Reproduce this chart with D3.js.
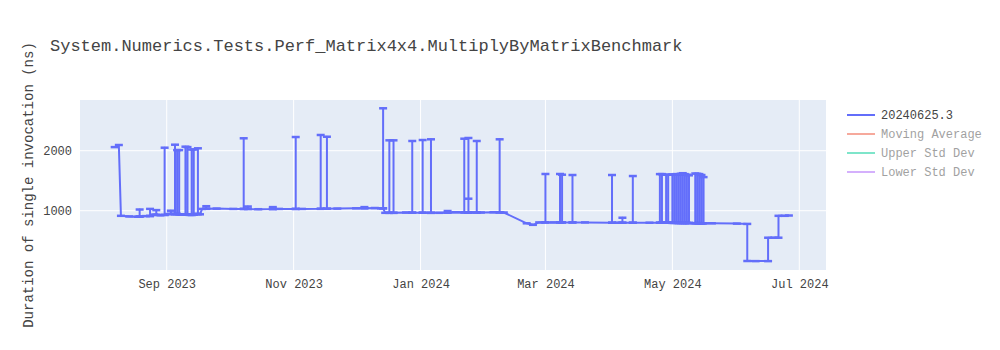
<!DOCTYPE html>
<html lang="en">
  <head>
    <meta charset="UTF-8">
    <title>Perf_Matrix4x4.MultiplyByMatrixBenchmark</title>
    <style>
      html, body {
        margin: 0;
        padding: 0;
        background: #fff;
      }

      text {
        font-family: "Courier New", "Liberation Mono", monospace;
        fill: #444;
      }
    </style>
  </head>
  <body>
    <svg width="1000" height="350"></svg>
    <script src="https://cdn.jsdelivr.net/npm/d3@7"></script>
    <script>

      // baseline of the run series (date, ns)
      const baseDates = [
        '2023-08-07', '2023-08-09', '2023-08-10', '2023-08-14', '2023-08-18', '2023-08-22',
        '2023-08-26', '2023-08-29', '2023-09-02', '2023-09-08', '2023-09-12', '2023-09-15',
        '2023-09-17', '2023-09-18', '2023-09-25', '2023-10-03', '2023-10-15', '2023-10-25',
        '2023-11-05', '2023-11-22', '2023-12-01', '2023-12-10', '2023-12-13', '2023-12-15',
        '2023-12-25', '2024-01-10', '2024-01-18', '2024-01-30', '2024-02-05', '2024-02-10',
        '2024-02-21', '2024-02-24', '2024-02-27', '2024-03-05', '2024-03-20', '2024-04-05',
        '2024-04-20', '2024-05-20', '2024-06-01', '2024-06-06', '2024-06-06', '2024-06-10',
        '2024-06-16', '2024-06-16', '2024-06-19', '2024-06-21', '2024-06-21', '2024-06-24',
        '2024-06-26'
      ]
      const baseValues = [
        2060, 2095, 915, 905, 900, 910,
        935, 925, 945, 935, 930, 945,
        940, 1030, 1035, 1030, 1025, 1030,
        1030, 1035, 1040, 1045, 1040, 965,
        970, 965, 975, 970, 975, 970,
        790, 765, 805, 805, 805, 800,
        800, 790, 785, 780, 162, 160,
        160, 550, 550, 550, 915, 915,
        920
      ]

      // single-run outliers: date, peak and the level they jump from
      const spikeDates = [
        '2023-08-19', '2023-08-24', '2023-08-27', '2023-08-31', '2023-09-03', '2023-09-05',
        '2023-09-06', '2023-09-07', '2023-09-10', '2023-09-11', '2023-09-13', '2023-09-14',
        '2023-09-16', '2023-09-20', '2023-10-08', '2023-10-10', '2023-10-22', '2023-11-02',
        '2023-11-14', '2023-11-17', '2023-12-05', '2023-12-14', '2023-12-17', '2023-12-19',
        '2023-12-28', '2024-01-02', '2024-01-06', '2024-01-14', '2024-01-22', '2024-01-24',
        '2024-01-24', '2024-01-28', '2024-02-08', '2024-03-01', '2024-03-08', '2024-03-09',
        '2024-03-14', '2024-04-02', '2024-04-07', '2024-04-12', '2024-04-25', '2024-04-26',
        '2024-04-28', '2024-04-29', '2024-05-01', '2024-05-02', '2024-05-03', '2024-05-04',
        '2024-05-05', '2024-05-06', '2024-05-07', '2024-05-08', '2024-05-09', '2024-05-12',
        '2024-05-13', '2024-05-14', '2024-05-15', '2024-05-16'
      ]
      const spikeTops = [
        1020, 1030, 1010, 2050, 1000, 2100,
        2010, 2010, 2067, 2060, 2020, 2020,
        2040, 1075, 2207, 1070, 1060, 2228,
        2262, 2233, 1060, 2707, 2173, 2173,
        2162, 2178, 2190, 995, 2200, 2212,
        1200, 2162, 2190, 1612, 1612, 1600,
        1595, 1595, 883, 1578, 1610, 1610,
        1600, 1600, 1605, 1600, 1610, 1600,
        1615, 1625, 1610, 1600, 1590, 1620,
        1615, 1610, 1595, 1560
      ]
      const spikeBases = [
        902, 912, 930, 930, 945, 945,
        945, 940, 935, 935, 930, 935,
        945, 1032, 1030, 1030, 1028, 1030,
        1032, 1033, 1042, 1040, 965, 965,
        968, 967, 965, 968, 972, 972,
        972, 970, 972, 805, 805, 805,
        805, 800, 800, 800, 800, 800,
        800, 800, 798, 798, 798, 796,
        796, 796, 795, 795, 795, 792,
        792, 792, 790, 790
      ]

      const legendNames = ['20240625.3', 'Moving Average', 'Upper Std Dev', 'Lower Std Dev']
      const legendColors = ['#636efa', '#EF553B', '#00cc96', '#ab63fa']
      const yTicks = [1000, 2000]
      const xTicks = ['2023-09-01', '2023-11-01', '2024-01-01', '2024-03-01', '2024-05-01', '2024-07-01']

      const svg = d3.select('svg'),
        margin = { top: 100, right: 174, bottom: 80, left: 80 },
        width = +svg.attr('width') - margin.left - margin.right,
        height = +svg.attr('height') - margin.top - margin.bottom

      // merge baseline and spikes into one ordered series
      let points = baseDates.map(function (d, i) { return { t: d3.isoParse(d), v: baseValues[i] } })
      spikeDates.forEach(function (d, i) {
        const t = d3.isoParse(d)
        points.push({ t: t, v: spikeBases[i] }, { t: t, v: spikeTops[i] }, { t: t, v: spikeBases[i] })
      })
      points = points.map(function (p, i) { p.o = i; return p })
      points.sort(function (a, b) { return (a.t - b.t) || (a.o - b.o) })

      const x = d3.scaleUtc()
        .domain([new Date('2023-07-21T08:00:00Z'), new Date('2024-07-13T20:00:00Z')])
        .range([0, width])

      const y = d3.scaleLinear()
        .domain([12, 2845])
        .range([height, 0])

      svg.append('text')
        .attr('x', 50)
        .attr('y', 51)
        .style('font-size', '17px')
        .text('System.Numerics.Tests.Perf_Matrix4x4.MultiplyByMatrixBenchmark')

      const g = svg.append('g')
        .attr('transform', 'translate(' + margin.left + ',' + margin.top + ')')

      g.append('rect')
        .attr('width', width)
        .attr('height', height)
        .attr('fill', '#e5ecf6')

      // grid
      g.selectAll('.xgrid')
        .data(xTicks.map(d3.isoParse))
        .enter().append('line')
        .attr('x1', function (d) { return x(d) })
        .attr('x2', function (d) { return x(d) })
        .attr('y1', 0)
        .attr('y2', height)
        .attr('stroke', '#fff')
        .attr('stroke-width', 1)

      g.selectAll('.ygrid')
        .data(yTicks)
        .enter().append('line')
        .attr('x1', 0)
        .attr('x2', width)
        .attr('y1', function (d) { return y(d) })
        .attr('y2', function (d) { return y(d) })
        .attr('stroke', '#fff')
        .attr('stroke-width', 1)

      // axes (labels only, like plotly)
      const xAxis = g.append('g')
        .attr('transform', 'translate(0,' + height + ')')
        .call(d3.axisBottom(x).tickValues(xTicks.map(d3.isoParse)).tickFormat(d3.utcFormat('%b %Y')).tickSize(0).tickPadding(9))
      xAxis.select('.domain').remove()
      xAxis.selectAll('text').style('font-size', '12px').attr('fill', '#444').style('font-family', null)

      const yAxis = g.append('g')
        .call(d3.axisLeft(y).tickValues(yTicks).tickFormat(d3.format('d')).tickSize(0).tickPadding(8))
      yAxis.select('.domain').remove()
      yAxis.selectAll('text').style('font-size', '12px').attr('fill', '#444').style('font-family', null)

      svg.append('text')
        .attr('transform', 'translate(33,' + (margin.top + height / 2) + ') rotate(-90)')
        .attr('text-anchor', 'middle')
        .style('font-size', '14px')
        .text('Duration of single invocation (ns)')

      // series
      const plot = g.append('g')

      const line = d3.line()
        .x(function (d) { return x(d.t) })
        .y(function (d) { return y(d.v) })

      plot.append('path')
        .datum(points)
        .attr('fill', 'none')
        .attr('stroke', legendColors[0])
        .attr('stroke-width', 2)
        .attr('stroke-linejoin', 'round')
        .attr('d', line)

      plot.selectAll('.marker')
        .data(points)
        .enter().append('path')
        .attr('transform', function (d) { return 'translate(' + x(d.t) + ',' + y(d.v) + ')' })
        .attr('d', 'M-4,0H4')
        .attr('stroke', legendColors[0])
        .attr('stroke-width', 2.5)

      // legend
      const legend = svg.append('g')
        .attr('transform', 'translate(847,115)')

      const item = legend.selectAll('.item')
        .data(legendNames)
        .enter().append('g')
        .attr('transform', function (d, i) { return 'translate(0,' + (i * 19) + ')' })
        .attr('opacity', function (d, i) { return i === 0 ? 1 : 0.5 })

      item.append('line')
        .attr('x1', 0)
        .attr('x2', 28)
        .attr('stroke', function (d, i) { return legendColors[i] })
        .attr('stroke-width', 2)

      item.append('text')
        .attr('x', 34)
        .attr('dy', '0.35em')
        .style('font-size', '12px')
        .text(function (d) { return d })

    </script>
  </body>
</html>
